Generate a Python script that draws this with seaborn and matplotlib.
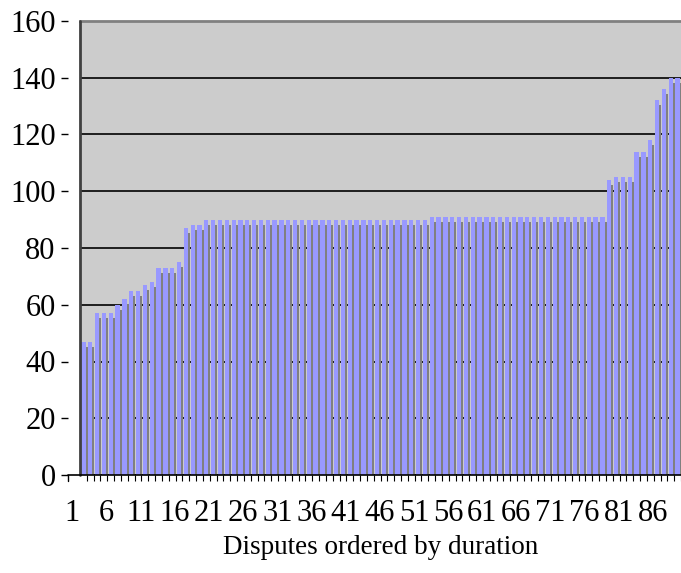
import numpy as np
import pandas as pd
import matplotlib
matplotlib.use('Agg')
import matplotlib.pyplot as plt
import matplotlib.transforms as mtransforms
import seaborn as sns

# Duration of every dispute, already sorted from shortest to longest
durations = [47, 47, 57, 57, 57, 60, 62, 65, 65, 67,
             68, 73, 73, 73, 75, 87, 88, 88, 90, 90,
             90, 90, 90, 90, 90, 90, 90, 90, 90, 90,
             90, 90, 90, 90, 90, 90, 90, 90, 90, 90,
             90, 90, 90, 90, 90, 90, 90, 90, 90, 90,
             90, 91, 91, 91, 91, 91, 91, 91, 91, 91,
             91, 91, 91, 91, 91, 91, 91, 91, 91, 91,
             91, 91, 91, 91, 91, 91, 91, 104, 105, 105,
             105, 114, 114, 118, 132, 136, 140, 140]
dispute = list(range(1, len(durations) + 1))
y_ticks = [0, 20, 40, 60, 80, 100, 120, 140, 160]

df = pd.DataFrame({'Dispute': dispute, 'Duration': durations})

sns.set_theme(style='white')
plt.rcParams['font.family'] = ['Liberation Serif', 'DejaVu Serif']

W, H = 681, 573
fig = plt.figure(figsize=(W / 100, H / 100), dpi=100)
ax = fig.add_axes([80 / W, 1 - 475 / H, 601 / W, 454 / H])
ax.set_facecolor('#CCCCCC')

#shadow bars first, then the blue ones on top
sns.barplot(data=df, x='Dispute', y='Duration', color='#808080', saturation=1,
            width=0.63, errorbar=None, ax=ax, zorder=2, linewidth=0)
shadow = list(ax.patches)
sns.barplot(data=df, x='Dispute', y='Duration', color='#9999FF', saturation=1,
            width=0.63, errorbar=None, ax=ax, zorder=3, linewidth=0)
off = mtransforms.ScaledTranslation(2 / 100, -5 / 100, fig.dpi_scale_trans)
for p in shadow:
    p.set_transform(ax.transData + off)

ax.set_xlim(-0.5, len(durations) - 0.5)
ax.set_ylim(0, 160)
ax.set_yticks(y_ticks)
ax.yaxis.grid(True, color='black', linewidth=1.2)
ax.set_axisbelow(True)

# spines: gray top, dark wall on the left, axis lines pushed out a bit
ax.spines['top'].set_color('#808080')
ax.spines['top'].set_linewidth(2)
ax.spines['right'].set_visible(False)
ax.spines['bottom'].set_visible(False)
ax.spines['left'].set_position(('outward', 8.6))
ax.spines['left'].set_visible(False)
ax.plot([0, 0], [0, 1], transform=ax.transAxes, color='#404040', lw=2, clip_on=False, zorder=5)
ax.plot([-12 / 601, 1], [0, 0], transform=ax.transAxes, color='black', lw=1.2, clip_on=False, zorder=5)
ax.plot([-12 / 601, -12 / 601], [0, -6 / 454], transform=ax.transAxes, color='black', lw=1, clip_on=False)

ax.tick_params(axis='y', left=True, direction='out', length=5, width=1, color='black',
               pad=4, labelsize=22, labelcolor='black')

ax.set_xticks(range(0, len(durations), 5))
ax.set_xticklabels([str(d) for d in dispute[::5]])
ax.set_xticks(np.arange(0.5, len(durations), 1), minor=True)
ax.tick_params(axis='x', which='major', bottom=True, length=0, pad=17.5,
               labelsize=22, labelcolor='black')
ax.tick_params(axis='x', which='minor', bottom=True, direction='out', length=4,
               width=0.8, color='black')

ax.set_xlabel('Disputes ordered by duration', fontsize=19.5, color='black', labelpad=5)
ax.set_ylabel('')

shift = mtransforms.ScaledTranslation(-11 / 100, 0, fig.dpi_scale_trans)
for t in ax.xaxis.get_major_ticks():
    t.label1.set_transform(t.label1.get_transform() + shift)

fig.savefig('out.png', dpi=100)
